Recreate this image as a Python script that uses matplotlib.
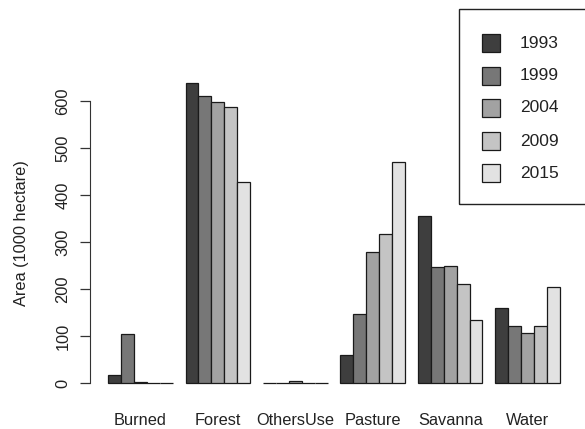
import numpy as np
import matplotlib
matplotlib.use("Agg")
import matplotlib.pyplot as plt
from matplotlib.patches import Rectangle

plt.rcParams['font.family'] = ['Liberation Sans', 'DejaVu Sans']

categories = ["Burned", "Forest", "OthersUse", "Pasture", "Savanna", "Water"]
years = ["1993", "1999", "2004", "2009", "2015"]
area = {
    "1993": [17, 639, 1, 60, 356, 160],
    "1999": [104, 612, 1, 147, 247, 121],
    "2004": [2, 598, 4, 278, 249, 107],
    "2009": [0.5, 588, 1, 317, 210, 121],
    "2015": [0.5, 429, 1, 470, 135, 205],
}
colors = ["#3e3e3e", "#777777", "#a2a2a2", "#c4c4c4", "#e2e2e2"]

W, H = 585, 429
fig = plt.figure(figsize=(W / 100, H / 100), dpi=100)
left, right, top, bottom = 90, 578, 71, 395
ax = fig.add_axes([left / W, 1 - bottom / H, (right - left) / W, (bottom - top) / H])

n = len(years)
group = n + 1
ymax = max(max(v) for v in area.values())
for j, yr in enumerate(years):
    xs = [1 + g * group + j for g in range(len(categories))]
    ax.bar(xs, area[yr], width=1.0, align="edge", color=colors[j],
           edgecolor="#1a1a1a", linewidth=0.9)

xlo, xhi = 1, len(categories) * group
pad = 0.04 * (xhi - xlo)
ax.set_xlim(xlo - pad, xhi + pad)
ax.set_ylim(-0.04 * ymax, ymax * 1.04)

fs = 11.8
for s in ["top", "right", "bottom"]:
    ax.spines[s].set_visible(False)
ax.spines["left"].set_bounds(0, 600)
ax.spines["left"].set_color("#333333")
ax.set_yticks(range(0, 601, 100))
ax.tick_params(axis="y", length=7, width=0.9, color="#333333", pad=7,
               labelsize=fs, labelcolor="#222222")
for lab in ax.get_yticklabels():
    lab.set_rotation(90)
    lab.set_va("center")
ax.set_xticks([1 + g * group + n / 2 for g in range(len(categories))])
ax.set_xticklabels(categories, fontsize=fs, color="#222222")
ax.tick_params(axis="x", length=0, pad=13)
ax.set_ylabel("Area (1000 hectare)", fontsize=fs, color="#222222", labelpad=19)

# legend box, drawn in figure pixels
def fx(px):
    return px / W

def fy(py):
    return 1 - py / H

fig.add_artist(Rectangle((fx(459), fy(204)), fx(135), (204 - 9) / H,
                         transform=fig.transFigure, fill=False,
                         edgecolor="#222222", linewidth=1.0))
row_y = [43, 76, 108, 141, 173]
for j, yr in enumerate(years):
    cy = row_y[j]
    fig.add_artist(Rectangle((fx(482), fy(cy + 9)), 17.5 / W, 18 / H,
                             transform=fig.transFigure, facecolor=colors[j],
                             edgecolor="#1a1a1a", linewidth=0.9))
    fig.text(fx(520), fy(cy), yr, fontsize=12.5, color="#222222",
             ha="left", va="center")

fig.savefig("out.png", dpi=100)
